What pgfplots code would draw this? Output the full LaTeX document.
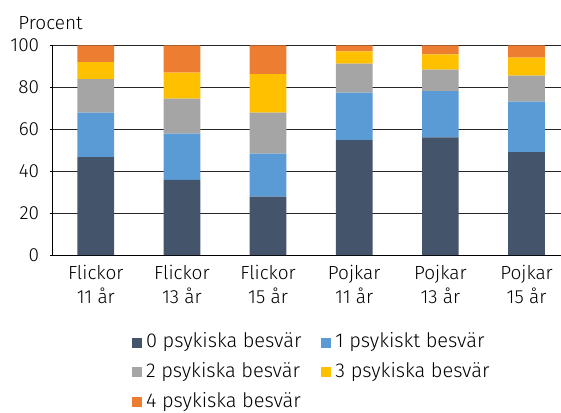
\documentclass[border=0pt]{standalone}
\usepackage{fontspec}
\setmainfont{Fira Sans}[UprightFont=* Light]
\usepackage{pgfplots}
\pgfplotsset{compat=1.18}
\definecolor{c0}{HTML}{44546A}
\definecolor{c1}{HTML}{5B9BD5}
\definecolor{c2}{HTML}{A5A5A5}
\definecolor{c3}{HTML}{FFC000}
\definecolor{c4}{HTML}{ED7D31}
\begin{document}
\fontsize{19}{23}\selectfont
\begin{tikzpicture}
\begin{axis}[
  name=a,
  at={(0,0)}, anchor=south west,
  scale only axis,
  width=508.3pt, height=209.7pt,
  ybar stacked,
  bar width=36.7pt,
  xmin=-0.5, xmax=5.40,
  ymin=0, ymax=100,
  ytick={0,20,40,60,80,100},
  xtick={0,1,2,3,4,5},
  xticklabels={Flickor\\11 år,Flickor\\13 år,Flickor\\15 år,Pojkar\\11 år,Pojkar\\13 år,Pojkar\\15 år},
  xticklabel style={align=center, font=\fontsize{19}{24}\selectfont, inner sep=0pt, yshift=-7pt},
  yticklabel style={font=\fontsize{19}{23}\selectfont, xshift=-4pt},
  /pgf/number format/assume math mode=true,
  axis x line*=bottom,
  axis y line*=left,
  axis line style={black, line width=0.9pt},
  ymajorgrids,
  grid style={black!85, line width=0.8pt},
  major x tick style={draw=none},
  major y tick style={black, line width=0.8pt},
  tick align=outside,
  major tick length=3pt,
  legend columns=2,
  legend cell align=left,
  legend style={draw=none, fill=none, at={(0.150,-0.350)}, anchor=north west,
    font=\fontsize{20}{24}\selectfont,
    /tikz/every even column/.append style={column sep=18pt},
    row sep=8pt},
  legend image code/.code={\fill[#1] (0pt,-6pt) rectangle (10pt,4pt); \path (12pt,0pt);},
]
\addplot[fill=c0, draw=none] coordinates {(0,46.7) (1,35.8) (2,27.8) (3,54.8) (4,56.1) (5,49.0)};
\addplot[fill=c1, draw=none] coordinates {(0,21.2) (1,22.1) (2,20.5) (3,22.6) (4,22.1) (5,24.1)};
\addplot[fill=c2, draw=none] coordinates {(0,16.0) (1,16.7) (2,19.6) (3,13.9) (4,10.2) (5,12.4)};
\addplot[fill=c3, draw=none] coordinates {(0,8.1) (1,12.4) (2,18.3) (3,5.8) (4,7.3) (5,8.6)};
\addplot[fill=c4, draw=none] coordinates {(0,8.0) (1,13.0) (2,13.8) (3,2.9) (4,4.3) (5,5.9)};
\legend{0 psykiska besvär,1 psykiskt besvär,2 psykiska besvär,3 psykiska besvär,4 psykiska besvär}
\end{axis}
\node[anchor=base west, inner sep=0pt] at (-34.4pt,225pt) {Procent};
\pgfresetboundingbox
\path (-52.7pt,-157pt) rectangle (508.3pt,255pt);
\end{tikzpicture}
\end{document}
